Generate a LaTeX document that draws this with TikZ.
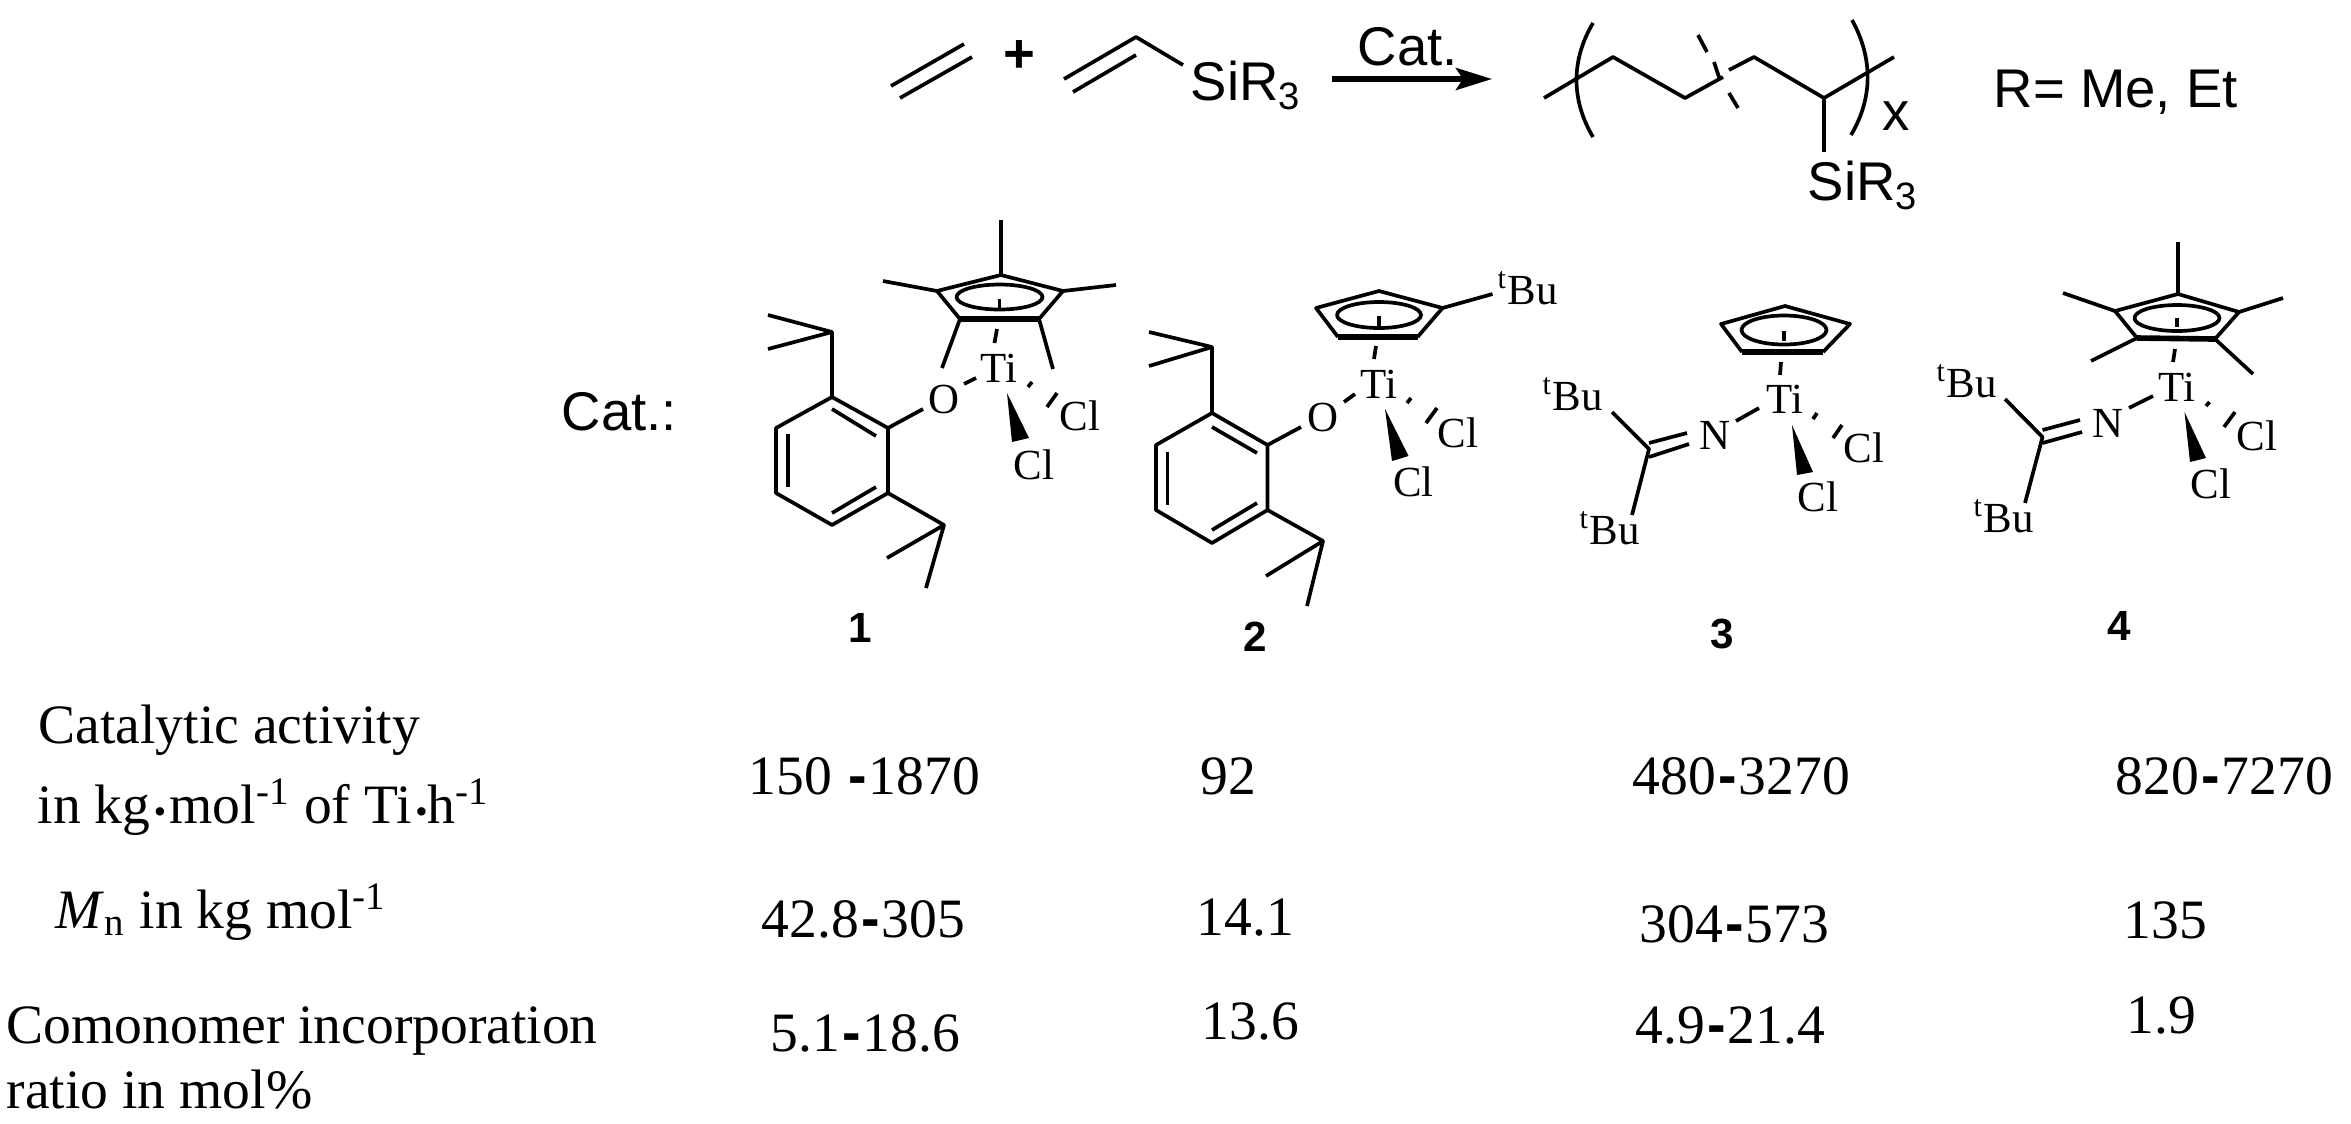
\documentclass[tikz,border=0pt]{standalone}
\usepackage{fontspec}
\setmainfont{Liberation Serif}
\newfontfamily\sansfam{Liberation Sans}
\usetikzlibrary{arrows.meta}
\tikzset{
  bond/.style={line width=1.05pt, line join=round},
  thickbond/.style={line width=1.6pt},
  atomlab/.style={anchor=base west, inner sep=0pt, font=\fontsize{12.2}{14}\selectfont},
  sanslab/.style={anchor=base west, inner sep=0pt, font=\sansfam\fontsize{15.5}{18}\selectfont},
  numlab/.style={anchor=base, inner sep=0pt, font=\sansfam\bfseries\fontsize{12}{14}\selectfont},
  rowlab/.style={anchor=base west, inner sep=0pt, font=\fontsize{15.8}{19}\selectfont},
}
\newcommand{\hy}{\kern0.6pt{\sansfam\bfseries-}\kern0.6pt}
\newcommand{\tbu}{\textsuperscript{t}Bu}
\newcommand{\smdot}{{\fontsize{10}{10}\selectfont\textbullet}}
\begin{document}
\begin{tikzpicture}[x=0.01cm, y=-0.01cm]
\useasboundingbox (0,0) rectangle (2351,1123);

\begin{scope}[shift={(-1,0)}]
\path (892,86) coordinate (ea1) (965,44) coordinate (ea2) (901,98) coordinate (eb1) (973,57) coordinate (eb2);
\draw[bond] (ea1) to (ea2);
\draw[bond] (eb1) to (eb2);
\node[sanslab] (plus) at (1004,72) {\bfseries +};

\path (1065,79) coordinate (va1) (1137,37) coordinate (va2) (1074,92) coordinate (vb1) (1137,55) coordinate (vb2) (1184,65) coordinate (va3);
\draw[bond] (va1) to (va2) to (va3);
\draw[bond] (vb1) to (vb2);
\node[sanslab] (sir1) at (1191,100) {SiR\textsubscript{3}};
\end{scope}

\coordinate (arra) at (1332,79);
\coordinate (arrb) at (1492,79);
\draw[line width=1.5pt, -{Stealth[length=0.36cm, width=0.22cm, inset=0.07cm]}] (arra) to (arrb);
\node[sanslab] (catarr) at (1357,65) {Cat.};

\begin{scope}[shift={(-4,0)}]
\path (1548,98) coordinate (p1) (1617,57) coordinate (p2) (1689,98) coordinate (p3) (1727,77) coordinate (p3b)
  (1733,70) coordinate (p4b) (1758,57) coordinate (p4) (1828,98) coordinate (p5) (1898,57) coordinate (p6) (1828,152) coordinate (p7);
\draw[bond] (p1) to (p2) to (p3) to (p3b);
\draw[bond] (p4b) to (p4) to (p5) to (p6);
\draw[bond] (p5) to (p7);
\path (1702,35) coordinate (da1) (1711,52) coordinate (da2) (1718,62) coordinate (db1) (1724,80) coordinate (db2) (1733,93) coordinate (dc1) (1742,108) coordinate (dc2);
\draw[bond] (da1) to (da2);
\draw[bond] (db1) to (db2);
\draw[bond] (dc1) to (dc2);
\path (1597,23) coordinate (pla) (1597,137) coordinate (plb) (1856,20) coordinate (pra) (1855,135) coordinate (prb);
\draw[bond] (pla) .. controls (1575,60) and (1575,100) .. (plb);
\draw[bond] (pra) .. controls (1877,58) and (1877,98) .. (prb);
\node[sanslab] (xsub) at (1886,130) {x};
\node[sanslab] (sir2) at (1811,200) {SiR\textsubscript{3}};
\end{scope}
\node[sanslab] (rlab) at (1993,107) {R= Me, Et};

\node[sanslab] (catlab) at (561,430) {Cat.:};

\begin{scope}[shift={(-2,0)}]
\path (834,397) coordinate (a1) (890,428) coordinate (a2) (890,493) coordinate (a3) (834,525) coordinate (a4) (778,493) coordinate (a5) (778,428) coordinate (a6);
\draw[bond] (a1) to (a2) to (a3) to (a4) to (a5) to (a6) to cycle;
\path (834,409) coordinate (ai1) (878,436) coordinate (ai2) (790,434) coordinate (ai3) (790,487) coordinate (ai4) (834,513) coordinate (ai5) (878,487) coordinate (ai6);
\draw[bond] (ai1) to (ai2);
\draw[bond] (ai3) to (ai4);
\draw[bond] (ai5) to (ai6);
\path (834,332) coordinate (at) (770,315) coordinate (at1) (770,349) coordinate (at2) (946,525) coordinate (ab) (889,558) coordinate (ab1) (928,588) coordinate (ab2);
\draw[bond] (a1) to (at);
\draw[bond] (at1) to (at) to (at2);
\draw[bond] (a3) to (ab);
\draw[bond] (ab1) to (ab) to (ab2);
\coordinate (ao) at (925,409);
\draw[bond] (a2) to (ao);
\node[atomlab] (oa) at (930,413) {O};
\node[atomlab] (tia) at (982,382) {Ti};
\path (966,384) coordinate (aoa) (978,378) coordinate (aob);
\draw[bond] (aoa) to (aob);
\path (1003,275) coordinate (ca1) (1065,291) coordinate (ca2) (1041,319) coordinate (ca3) (962,319) coordinate (ca4) (939,291) coordinate (ca5);
\draw[bond] (ca3) to (ca2) to (ca1) to (ca5) to (ca4);
\draw[thickbond] (ca4) to (ca3);
\draw[bond] (1001.5,297) ellipse (43 and 12.5);
\path (1001.5,299) coordinate (cta) (1001.5,309) coordinate (ctb) (999,329) coordinate (cda) (996.5,343) coordinate (cdb);
\draw[bond] (cta) to (ctb);
\draw[bond] (cda) to (cdb);
\path (1003,220) coordinate (ma1) (1118,285) coordinate (ma2) (1055,369) coordinate (ma3) (944,368) coordinate (ma4) (885,281) coordinate (ma5);
\draw[bond] (ca1) to (ma1);
\draw[bond] (ca2) to (ma2);
\draw[bond] (ca3) to (ma3);
\draw[bond] (ca4) to (ma4);
\draw[bond] (ca5) to (ma5);
\path (1030,387) coordinate (ha1) (1034,382) coordinate (ha2) (1049,407) coordinate (ha3) (1059,393) coordinate (ha4);
\draw[bond] (ha1) to (ha2);
\draw[bond] (ha3) to (ha4);
\fill (1009,393) -- (1014,442) -- (1031,438) -- cycle;
\node[atomlab] (cla) at (1061,430) {Cl};
\node[atomlab] (clb) at (1015,479) {Cl};
\node[numlab] (numa) at (862,642) {1};
\end{scope}

\path (1212,413) coordinate (b1) (1267.5,445) coordinate (b2) (1267.5,510) coordinate (b3) (1212,543) coordinate (b4) (1156,510) coordinate (b5) (1156,445) coordinate (b6);
\draw[bond] (b1) to (b2) to (b3) to (b4) to (b5) to (b6) to cycle;
\path (1212,427) coordinate (bi1) (1257,453) coordinate (bi2) (1167.5,452) coordinate (bi3) (1167.5,505) coordinate (bi4) (1212,530) coordinate (bi5) (1257,503) coordinate (bi6);
\draw[bond] (bi1) to (bi2);
\draw[bond] (bi3) to (bi4);
\draw[bond] (bi5) to (bi6);
\path (1212,347) coordinate (bt) (1149,332) coordinate (bt1) (1149,366) coordinate (bt2) (1323,541) coordinate (bb) (1266,576) coordinate (bb1) (1307,606) coordinate (bb2);
\draw[bond] (b1) to (bt);
\draw[bond] (bt1) to (bt) to (bt2);
\draw[bond] (b3) to (bb);
\draw[bond] (bb1) to (bb) to (bb2);
\coordinate (bo) at (1301,427);
\draw[bond] (b2) to (bo);
\node[atomlab] (ob) at (1307,431) {O};
\node[atomlab] (tib) at (1360,398) {Ti};
\path (1344,402) coordinate (boa) (1355,394) coordinate (bob);
\draw[bond] (boa) to (bob);
\path (1379,291) coordinate (cb1) (1442.5,308) coordinate (cb2) (1417.5,337) coordinate (cb3) (1338,337) coordinate (cb4) (1316,308) coordinate (cb5);
\draw[bond] (cb3) to (cb2) to (cb1) to (cb5) to (cb4);
\draw[thickbond] (cb4) to (cb3);
\draw[bond] (1379,315) ellipse (42 and 13);
\path (1379,316) coordinate (dta) (1379,327) coordinate (dtb) (1376,346) coordinate (dda) (1374,359) coordinate (ddb) (1492.5,294) coordinate (mb);
\draw[bond] (dta) to (dtb);
\draw[bond] (dda) to (ddb);
\draw[bond] (cb2) to (mb);
\node[atomlab] (tbub) at (1497,304) {\tbu};
\path (1407,403) coordinate (hb1) (1411,398) coordinate (hb2) (1426,423) coordinate (hb3) (1437,408) coordinate (hb4);
\draw[bond] (hb1) to (hb2);
\draw[bond] (hb3) to (hb4);
\fill (1385,409) -- (1392,461) -- (1408.5,456) -- cycle;
\node[atomlab] (clc) at (1437,447) {Cl};
\node[atomlab] (cld) at (1392.5,496) {Cl};
\node[numlab] (numb) at (1255,651) {2};

\begin{scope}[shift={(-1,0)}]
\path (1786,306) coordinate (cc1) (1851,324) coordinate (cc2) (1824,352) coordinate (cc3) (1743,352) coordinate (cc4) (1722,324) coordinate (cc5);
\draw[bond] (cc3) to (cc2) to (cc1) to (cc5) to (cc4);
\draw[thickbond] (cc4) to (cc3);
\draw[bond] (1785,330) ellipse (42.5 and 14.5);
\path (1785,331) coordinate (eta) (1785,341) coordinate (etb) (1782,362) coordinate (eda) (1781,375) coordinate (edb);
\draw[bond] (eta) to (etb);
\draw[bond] (eda) to (edb);
\node[atomlab] (tic) at (1767,413) {Ti};
\node[atomlab] (nc) at (1700,449) {N};
\path (1737,421) coordinate (cna) (1760,408) coordinate (cnb) (1650,449) coordinate (cim) (1650,443) coordinate (cia) (1688,433) coordinate (cib) (1650,457) coordinate (cic) (1690,444) coordinate (cid) (1613,412) coordinate (cta1) (1633,515) coordinate (cta2);
\draw[bond] (cna) to (cnb);
\draw[bond] (cia) to (cib);
\draw[bond] (cic) to (cid);
\draw[bond] (cta1) to (cim) to (cta2);
\node[atomlab] (tbuc) at (1543,410) {\tbu};
\node[atomlab] (tbud) at (1580,544) {\tbu};
\path (1814,419) coordinate (hc1) (1818,413) coordinate (hc2) (1834,438) coordinate (hc3) (1843,425) coordinate (hc4);
\draw[bond] (hc1) to (hc2);
\draw[bond] (hc3) to (hc4);
\fill (1793,425) -- (1798,475) -- (1814,472) -- cycle;
\node[atomlab] (cle) at (1844,462) {Cl};
\node[atomlab] (clf) at (1798,511) {Cl};
\node[numlab] (numc) at (1723,648) {3};
\end{scope}

\begin{scope}[shift={(-3,0)}]
\path (2181,294) coordinate (cd1) (2242,312) coordinate (cd2) (2218,339) coordinate (cd3) (2140,338) coordinate (cd4) (2118,311) coordinate (cd5);
\draw[bond] (cd3) to (cd2) to (cd1) to (cd5) to (cd4);
\draw[thickbond] (cd4) to (cd3);
\draw[bond] (2180,318) ellipse (42.5 and 13);
\path (2180,318) coordinate (fta) (2180,327) coordinate (ftb) (2178,349) coordinate (fda) (2176,362) coordinate (fdb);
\draw[bond] (fta) to (ftb);
\draw[bond] (fda) to (fdb);
\path (2181,242) coordinate (md1) (2286,298) coordinate (md2) (2256,374) coordinate (md3) (2094,361) coordinate (md4) (2066,293) coordinate (md5);
\draw[bond] (cd1) to (md1);
\draw[bond] (cd2) to (md2);
\draw[bond] (cd3) to (md3);
\draw[bond] (cd4) to (md4);
\draw[bond] (cd5) to (md5);
\node[atomlab] (tid) at (2161,401) {Ti};
\node[atomlab] (nd) at (2095,437) {N};
\path (2132,408) coordinate (dna) (2156,396) coordinate (dnb) (2045.5,437) coordinate (dim) (2045.5,430) coordinate (dia) (2083,420) coordinate (dib) (2045.5,443) coordinate (dic) (2085,432) coordinate (did) (2008,399) coordinate (dta1) (2028,503) coordinate (dta2);
\draw[bond] (dna) to (dnb);
\draw[bond] (dia) to (dib);
\draw[bond] (dic) to (did);
\draw[bond] (dta1) to (dim) to (dta2);
\node[atomlab] (tbue) at (1939,397) {\tbu};
\node[atomlab] (tbuf) at (1976,532) {\tbu};
\path (2209,406) coordinate (hd1) (2212.5,402) coordinate (hd2) (2227,427) coordinate (hd3) (2238,412) coordinate (hd4);
\draw[bond] (hd1) to (hd2);
\draw[bond] (hd3) to (hd4);
\fill (2187.5,412) -- (2193,462) -- (2209,458) -- cycle;
\node[atomlab] (clg) at (2239,450) {Cl};
\node[atomlab] (clh) at (2193,498) {Cl};
\node[numlab] (numd) at (2122,640) {4};
\end{scope}

\node[rowlab] (acta) at (38,743) {Catalytic activity};
\node[rowlab] (actb) at (37,823) {in kg\kern1pt\smdot\kern1pt mol\textsuperscript{-1} of Ti\kern1pt\smdot h\textsuperscript{-1}};
\node[rowlab] (mnl) at (55,928) {\textit{M}\textsubscript{n} in kg mol\textsuperscript{-1}};
\node[rowlab] (coma) at (6,1043) {Comonomer incorporation};
\node[rowlab] (comb) at (6,1108) {ratio in mol\%};

\node[rowlab] (va) at (748,794) {150 \hy1870};
\node[rowlab] (vb) at (1200,794) {92};
\node[rowlab] (vc) at (1632,794) {480\hy3270};
\node[rowlab] (vd) at (2115,794) {820\hy7270};

\node[rowlab] (wa) at (761,937) {42.8\hy305};
\node[rowlab] (wb) at (1196,935) {14.1};
\node[rowlab] (wc) at (1639,942) {304\hy573};
\node[rowlab] (wd) at (2123,938) {135};

\node[rowlab] (xa) at (770,1051) {5.1\hy18.6};
\node[rowlab] (xb) at (1201,1039) {13.6};
\node[rowlab] (xc) at (1635,1043) {4.9\hy21.4};
\node[rowlab] (xd) at (2126,1033) {1.9};
\end{tikzpicture}
\end{document}
